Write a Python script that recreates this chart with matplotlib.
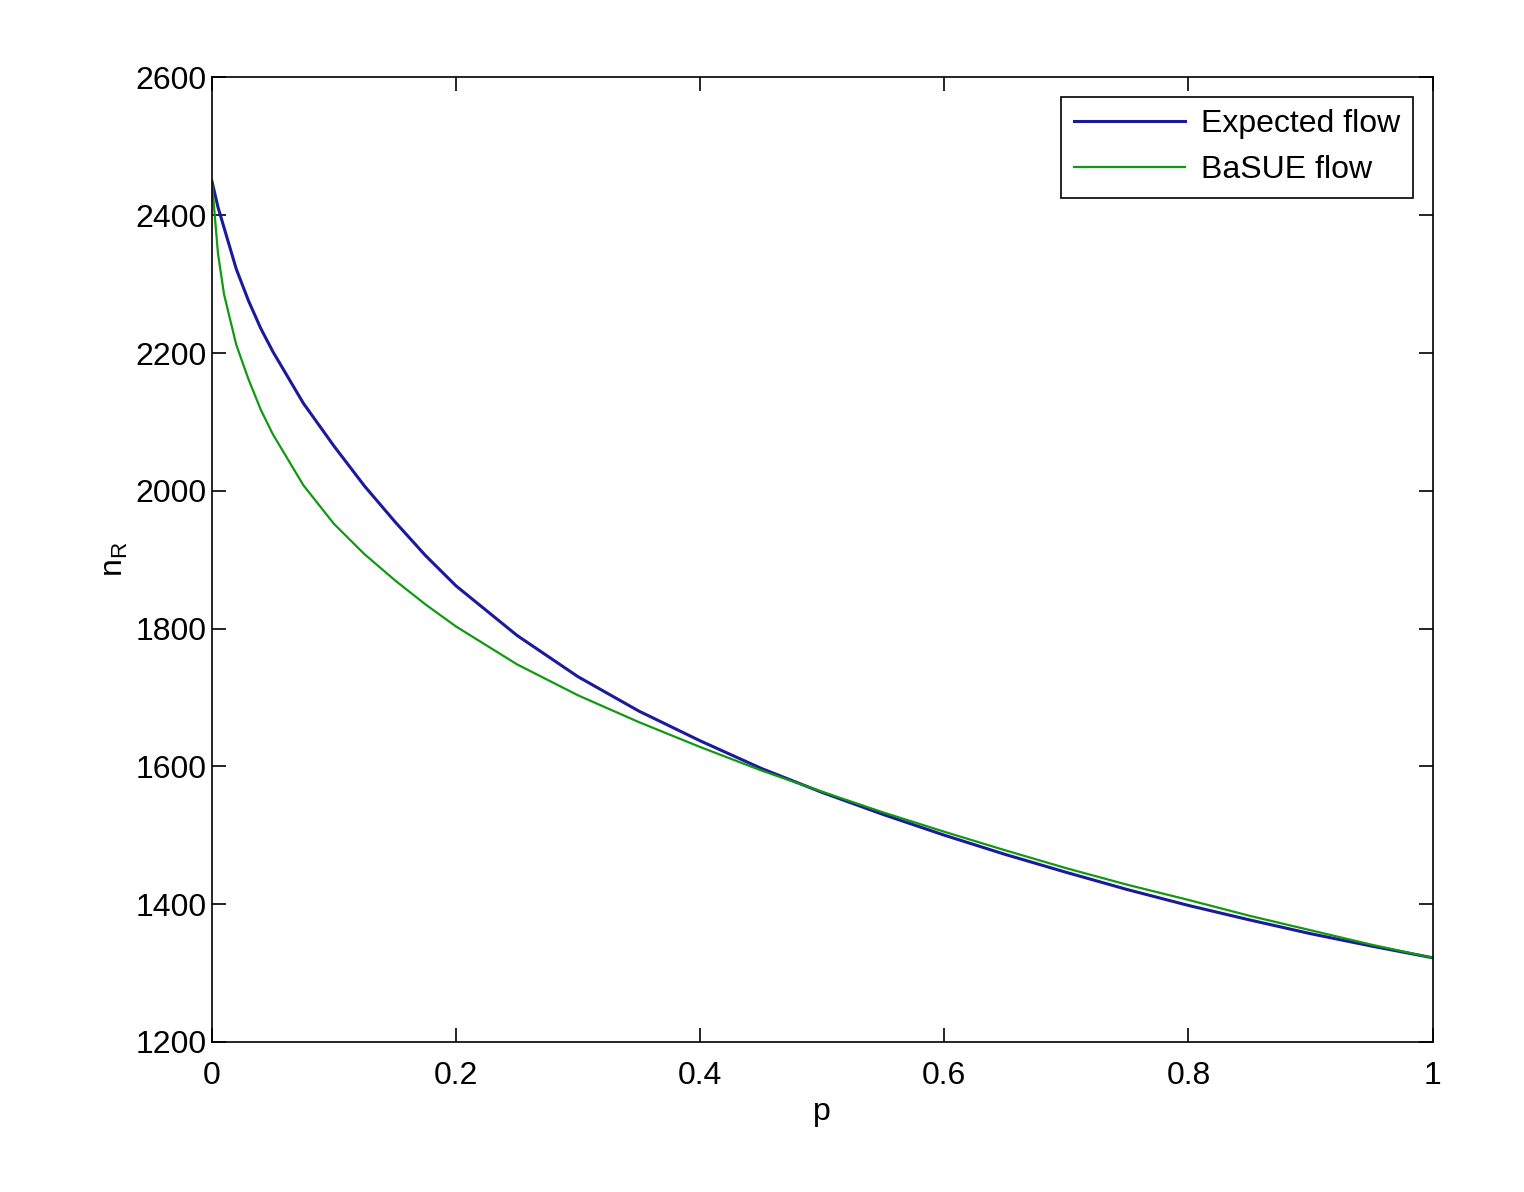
import matplotlib
matplotlib.use("Agg")
from matplotlib import pyplot as plt

plt.rcParams['font.family'] = ['Liberation Sans', 'DejaVu Sans']

# values
p = [0, 0.005, 0.01, 0.02, 0.03, 0.04, 0.05, 0.075, 0.1, 0.125, 0.15, 0.175, 0.2,
     0.25, 0.3, 0.35, 0.4, 0.45, 0.5, 0.55, 0.6, 0.65, 0.7, 0.75, 0.8, 0.85, 0.9,
     0.95, 1]
expected_flow = [2450, 2412, 2382, 2322, 2276, 2236, 2202, 2127, 2065, 2007, 1955,
                 1906, 1862, 1790, 1730, 1680, 1637, 1597, 1562, 1530, 1500, 1472,
                 1446, 1421, 1398, 1377, 1357, 1339, 1322]
basue_flow = [2450, 2345, 2285, 2212, 2162, 2118, 2082, 2008, 1952, 1908, 1870,
              1835, 1803, 1748, 1703, 1664, 1628, 1594, 1563, 1533, 1505, 1478,
              1452, 1428, 1406, 1383, 1362, 1341, 1322]

fig = plt.figure(figsize=(15.24, 11.92), dpi=100)
ax = fig.add_axes([0.139, 0.126, 0.801, 0.809])

ax.plot(p, expected_flow, color="#1a1a9a", lw=2.2, label="Expected flow")
ax.plot(p, basue_flow, color="#119911", lw=1.6, label="BaSUE flow")

ax.set_xlim(0, 1)
ax.set_ylim(1200, 2600)
ax.set_xticks([0, 0.2, 0.4, 0.6, 0.8, 1])
ax.set_xticklabels(["0", "0.2", "0.4", "0.6", "0.8", "1"])
ax.set_yticks(range(1200, 2601, 200))
ax.tick_params(direction="in", top=True, right=True, length=10, labelsize=23, width=1.2)
ax.tick_params(axis="x", pad=14)
ax.set_xlabel("p", fontsize=23)
ax.set_ylabel(r"n$_\mathregular{R}$", fontsize=23)
for s in ax.spines.values():
    s.set_linewidth(1.2)

leg = ax.legend(loc="upper right", fontsize=23, fancybox=False, framealpha=1,
                edgecolor="black", handlelength=3.5, borderaxespad=0.6,
                handletextpad=0.5)
leg.get_frame().set_linewidth(1.2)

fig.savefig("out.png")
